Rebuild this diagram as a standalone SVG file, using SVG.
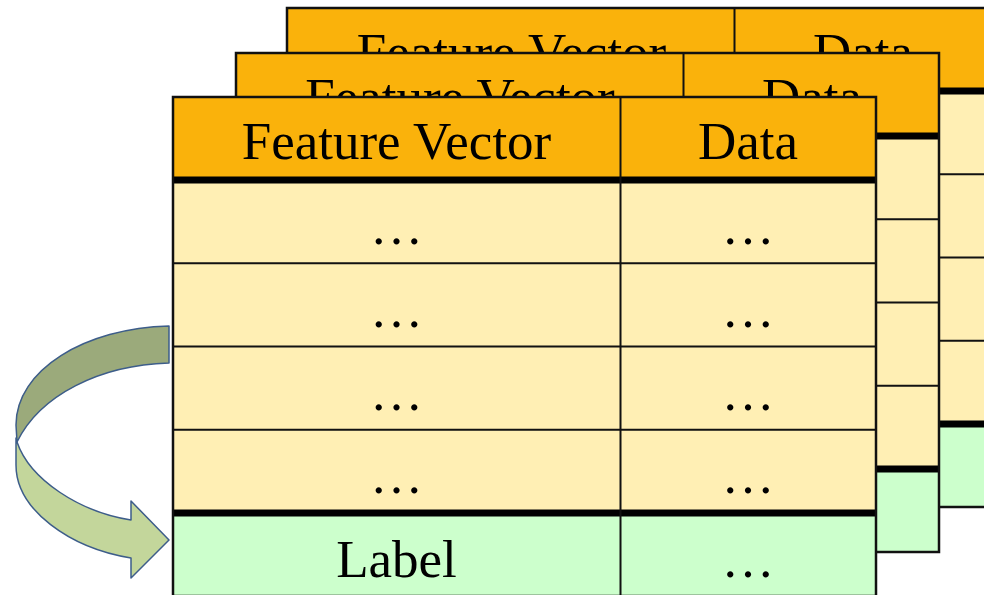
<svg xmlns="http://www.w3.org/2000/svg" xmlns:xlink="http://www.w3.org/1999/xlink" width="984" height="595" viewBox="0 0 984 595">
  <style>
    .hdr { fill: #FAB20B; }
    .row { fill: #FFEFB4; }
    .lbl { fill: #CCFFCC; }
    .thin { stroke: #111; stroke-width: 2; fill: none; }
    .thick { stroke: #000; stroke-width: 7; fill: none; }
    .border { stroke: #111; stroke-width: 2.5; fill: none; }
    .t { font-family: "Liberation Serif", "Times New Roman", serif; font-size: 53px; fill: #000; text-anchor: middle; }
    .arrow { stroke: #3D5D8A; stroke-width: 1.5; stroke-linejoin: round; }
  </style>
  <defs>
    <g id="frame">
      <rect x="0" y="0" width="703" height="83" class="hdr"/>
      <rect x="0" y="83" width="703" height="333" class="row"/>
      <rect x="0" y="416" width="703" height="83" class="lbl"/>
      <line x1="0" y1="166.3" x2="703" y2="166.3" class="thin"/>
      <line x1="0" y1="249.5" x2="703" y2="249.5" class="thin"/>
      <line x1="0" y1="332.7" x2="703" y2="332.7" class="thin"/>
      <line x1="0" y1="83" x2="703" y2="83" class="thick"/>
      <line x1="0" y1="416" x2="703" y2="416" class="thick"/>
      <line x1="447.5" y1="0" x2="447.5" y2="499" class="thin"/>
      <rect x="0" y="0" width="703" height="499" class="border"/>
    </g>
  </defs>

  <g id="table-back">
    <use xlink:href="#frame" href="#frame" transform="translate(287,8)"/>
    <text class="t" x="511.5" y="70">Feature Vector</text>
    <text class="t" x="863" y="70">Data</text>
  </g>

  <g id="table-middle">
    <use xlink:href="#frame" href="#frame" transform="translate(236,53)"/>
    <text class="t" x="460" y="115">Feature Vector</text>
    <text class="t" x="812" y="115">Data</text>
  </g>

  <g id="table-front">
    <use xlink:href="#frame" href="#frame" transform="translate(173,97)"/>
    <text class="t" x="396.5" y="159">Feature Vector</text>
    <text class="t" x="748" y="159">Data</text>
    <text class="t" x="396.5" y="244">…</text>
    <text class="t" x="748" y="244">…</text>
    <text class="t" x="396.5" y="327">…</text>
    <text class="t" x="748" y="327">…</text>
    <text class="t" x="396.5" y="410">…</text>
    <text class="t" x="748" y="410">…</text>
    <text class="t" x="396.5" y="493">…</text>
    <text class="t" x="748" y="493">…</text>
    <text class="t" x="396.5" y="577">Label</text>
    <text class="t" x="748" y="577">…</text>
  </g>

  <g id="connectors">
    <path class="arrow" fill="#9BAA7B" d="M169,326 C 85,328 16,370 16,425 L 17,442 C 40,395 100,365 169,363 Z"/>
    <path class="arrow" fill="#C3D69B" d="M17,442 C 30,480 80,512 131,520 L 131,501 L 169,540 L 131,578 L 131,558 C 70,548 16,510 16,465 L 16,438 Z"/>
  </g>
</svg>
